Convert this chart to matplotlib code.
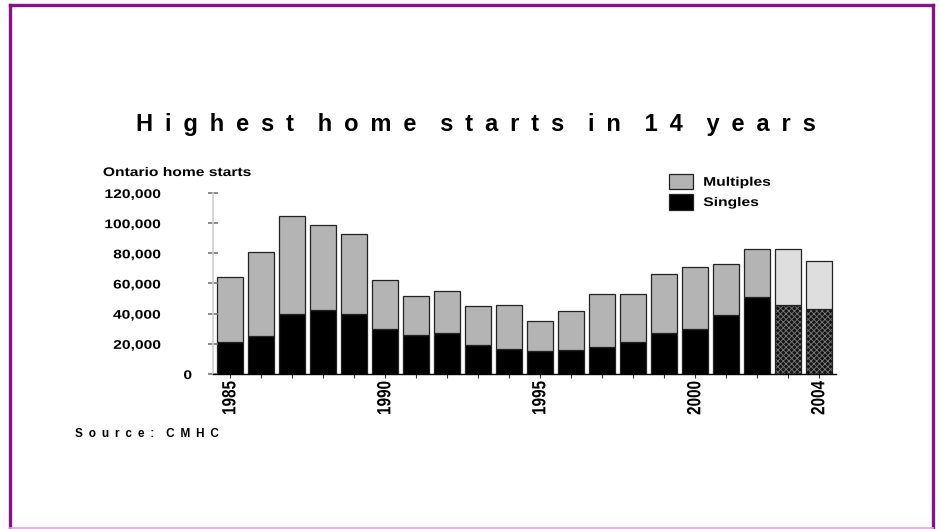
import numpy as np
import matplotlib
matplotlib.use('Agg')
import matplotlib.pyplot as plt
import matplotlib.transforms as mtransforms
from matplotlib.lines import Line2D
from matplotlib.patches import Patch
from matplotlib.patheffects import AbstractPathEffect

# Ontario home starts (CMHC)
years = list(range(1985, 2005))
singles = [21000, 25000, 40000, 42500, 40000, 30000, 26000, 27500, 19000, 16500,
           15500, 16000, 18000, 21000, 27500, 30000, 39000, 51000, 46000, 43000]
totals = [64000, 81000, 105000, 99000, 93000, 62000, 52000, 55000, 45000, 46000,
          35000, 42000, 53000, 53000, 66500, 71000, 73000, 83000, 83000, 75000]
forecast_years = [2003, 2004]
label_years = [1985, 1990, 1995, 2000, 2004]
y_ticks = [0, 20000, 40000, 60000, 80000, 100000, 120000]

plt.rcParams['font.family'] = ['Liberation Sans', 'DejaVu Sans']
plt.rcParams['font.weight'] = 'bold'

W, H = 940, 529
fig = plt.figure(figsize=(W / 100, H / 100), dpi=100)


def fx(px):
    return px / W


def fy(py):
    return 1 - py / H


class HStretch(AbstractPathEffect):
    """Widen glyphs horizontally (the source slide was stretched)."""

    def __init__(self, sx=1.25, anchor=0.0):
        super().__init__()
        self.sx = sx
        self.anchor = anchor

    def draw_path(self, renderer, gc, tpath, affine, rgbFace=None):
        bb = tpath.get_extents(affine)
        x0 = bb.x0 + self.anchor * bb.width
        aff = affine + mtransforms.Affine2D().translate(-x0, 0).scale(self.sx, 1).translate(x0, 0)
        renderer.draw_path(gc, tpath, aff, rgbFace)


SX = 1.25

ax = fig.add_axes([fx(213), fy(374), fx(836) - fx(213), fy(193) - fy(374)])

x = np.arange(len(years))
singles = np.array(singles)
multiples = np.array(totals) - singles
is_fc = np.array([y in forecast_years for y in years])
bw = 0.83

# actual years
ax.bar(x[~is_fc], singles[~is_fc], width=bw, color='black', edgecolor='#222222', linewidth=0.9)
ax.bar(x[~is_fc], multiples[~is_fc], bottom=singles[~is_fc], width=bw,
       color='#b4b4b4', edgecolor='#222222', linewidth=0.9)

# forecast years: textured fills
plt.rcParams['hatch.linewidth'] = 0.6
ax.bar(x[is_fc], singles[is_fc], width=bw, color='#151515', edgecolor='#7a7a7a',
       hatch='xxxxxx', linewidth=0)
ax.bar(x[is_fc], singles[is_fc], width=bw, fill=False, edgecolor='#222222', linewidth=0.9)
ax.bar(x[is_fc], multiples[is_fc], bottom=singles[is_fc], width=bw,
       color='#dedede', edgecolor='#222222', linewidth=0.9)

ax.set_xlim(-0.55, len(years) - 0.45)
ax.set_ylim(0, 120000)

ax.set_xticks(x)
ax.set_xticklabels([str(y) if y in label_years else '' for y in years],
                   rotation=90, fontsize=11, fontweight='bold')
ax.tick_params(axis='x', direction='out', length=3, width=0.8, color='#333333', pad=2)
for t in ax.get_xticklabels():
    t.set_path_effects([HStretch(SX, 0.5)])

ax.set_yticks(y_ticks)
ax.set_yticklabels([])
ax.tick_params(axis='y', direction='inout', length=7, width=1.2, color='#777777')

for s in ['top', 'right']:
    ax.spines[s].set_visible(False)
ax.spines['left'].set_color('#cfcfcf')
ax.spines['left'].set_linewidth(1.2)
ax.spines['bottom'].set_color('black')
ax.spines['bottom'].set_linewidth(1.0)

# y tick labels placed by hand (the zero sits closer to the axis)
tr = mtransforms.blended_transform_factory(fig.transFigure, ax.transData)
tr = mtransforms.offset_copy(tr, fig=fig, y=-2, units='dots')
for v in y_ticks:
    xp = fx(192) if v == 0 else fx(161)
    ax.text(xp, v, f'{v:,}', transform=tr, ha='right', va='center',
            fontsize=9, fontweight='bold', clip_on=False,
            path_effects=[HStretch(SX, 1.0)])

fig.text(fx(103), fy(176), 'Ontario home starts', fontsize=9, fontweight='bold',
         ha='left', va='baseline', path_effects=[HStretch(SX, 0.0)])

en = '\u2002'
title = 'Highest home starts in 14 years'
title_spaced = (en * 2).join(en.join(w) for w in title.split(' '))
fig.text(fx(476), fy(131), title_spaced, fontsize=17, fontweight='bold',
         ha='center', va='baseline')

source = 'Source: CMHC'
source_spaced = (en * 2).join(en.join(w) for w in source.split(' '))
fig.text(fx(75), fy(434), source_spaced, fontsize=8.5, fontweight='bold',
         ha='left', va='center')

handles = [Patch(facecolor='#b4b4b4', edgecolor='#222222', linewidth=0.9),
           Patch(facecolor='black', edgecolor='#222222', linewidth=0.9)]
leg = fig.legend(handles, ['Multiples', 'Singles'], loc='upper left',
                 bbox_to_anchor=(fx(669), fy(174)), frameon=False, fontsize=9,
                 handlelength=1.95, handleheight=1.5, handletextpad=0.8,
                 labelspacing=0.4, borderpad=0, borderaxespad=0)
for t in leg.get_texts():
    t.set_path_effects([HStretch(SX, 0.0)])

# purple slide frame
purple = '#8a0f8a'
fig.add_artist(Line2D([fx(9.5), fx(9.5)], [fy(5), fy(528)], color=purple, lw=2.4))
fig.add_artist(Line2D([fx(9.5), fx(933)], [fy(5), fy(5)], color=purple, lw=2.4))
fig.add_artist(Line2D([fx(933), fx(933)], [fy(5), fy(528)], color=purple, lw=2.4))
fig.add_artist(Line2D([fx(9.5), fx(933)], [fy(528), fy(528)], color='#dca8dc', lw=1.2))

fig.savefig('out.png', dpi=100)
